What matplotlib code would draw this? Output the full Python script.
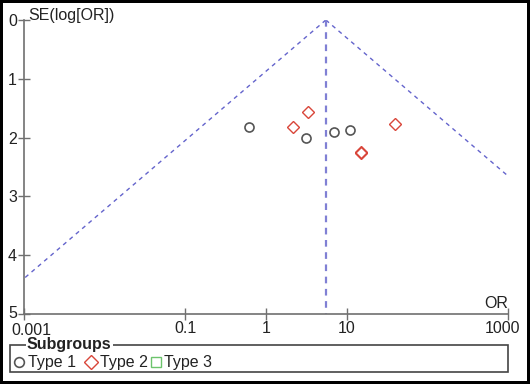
import matplotlib
matplotlib.use('Agg')
import matplotlib.pyplot as plt
import matplotlib.transforms as mtransforms
from matplotlib.patches import Rectangle
from matplotlib.lines import Line2D
import numpy as np

plt.rcParams['font.family'] = ['Liberation Sans', 'DejaVu Sans']

# ---- data ----
type1_or = [0.614, 3.12, 6.94, 10.96]
type1_se = [1.82, 2.007, 1.905, 1.87]
type2_or = [3.30, 2.15, 15.0, 15.2, 39.6]
type2_se = [1.565, 1.82, 2.24, 2.255, 1.77]
pooled_or = 5.52
se_max = 5

x_ticks = [0.001, 0.1, 1, 10, 1000]
x_labels = ['0.001', '0.1', '1', '10', '1000']
y_ticks = [0, 1, 2, 3, 4, 5]
legend_labels = ['Type 1', 'Type 2', 'Type 3']

C_T1 = '#555555'
C_T2 = '#d9463a'
C_T3 = '#6cc46c'
C_LINE = '#6464cc'
C_AX = '#707070'
C_TXT = '#222222'

W, H = 530, 384
fig = plt.figure(figsize=(W / 100, H / 100), dpi=100)
fig.patch.set_edgecolor('black')
fig.patch.set_linewidth(3)
ax = fig.add_axes([24 / W, 1 - 314 / H, 484 / W, 294 / H])

ax.set_xscale('log')
ax.set_xlim(0.001, 1000)
ax.set_ylim(se_max, 0)

# funnel (95% limits around pooled estimate)
se = np.array([0, se_max])
lw = pooled_or * np.exp(-1.96 * se)
up = pooled_or * np.exp(1.96 * se)
ax.plot(lw, se, color=C_LINE, lw=1, ls=(0, (3, 3)))
ax.plot(up, se, color=C_LINE, lw=1, ls=(0, (3, 3)))
ax.plot([pooled_or, pooled_or], [0, se_max], color='#8080d4', lw=1.6, ls=(0, (3, 2.5)))

ax.plot(type1_or, type1_se, 'o', ms=6.5, mfc='none', mec=C_T1, mew=1.2, ls='none')
ax.plot(type2_or, type2_se, 'D', ms=6.5, mfc='none', mec=C_T2, mew=1.0, ls='none')

for s in ['top', 'right']:
    ax.spines[s].set_visible(False)
for s in ['left', 'bottom']:
    ax.spines[s].set_color(C_AX)
    ax.spines[s].set_linewidth(1.2)

ax.set_xticks(x_ticks)
ax.set_xticklabels(x_labels)
ax.minorticks_off()
ax.set_yticks(y_ticks)
ax.tick_params(axis='both', direction='inout', length=8, width=1, color=C_AX,
               labelsize=11.5, labelcolor=C_TXT)
ax.tick_params(axis='x', pad=1)
ax.tick_params(axis='y', pad=1)

def shift(lab, dx, dy):
    lab.set_transform(lab.get_transform() +
                      mtransforms.ScaledTranslation(dx / 100, dy / 100, fig.dpi_scale_trans))

xl = ax.get_xticklabels()
shift(xl[0], 7, -2)
shift(xl[-1], -5, 0)
yl = ax.get_yticklabels()
shift(yl[-1], 0, 2)

ax.annotate('SE(log[OR])', xy=(0.001, 0), xytext=(3, 3), textcoords='offset points',
            ha='left', va='center', fontsize=11.5, color=C_TXT, annotation_clip=False)
ax.annotate('OR', xy=(1000, 5), xytext=(0, 2), textcoords='offset points',
            ha='right', va='bottom', fontsize=11.5, color=C_TXT, annotation_clip=False)

# legend box, drawn by hand
fig.patches.append(Rectangle((10 / W, 1 - 372 / H), 498 / W, 27 / H,
                             transform=fig.transFigure, fill=False,
                             edgecolor='#444444', lw=1.2))
fig.text(27 / W, 1 - 345 / H, 'Subgroups', fontsize=11.5, fontweight='bold',
         ha='left', va='center', color=C_TXT,
         bbox=dict(facecolor='white', edgecolor='none', pad=1))

markers = [('o', C_T1, 1.2), ('D', C_T2, 1.0), ('s', C_T3, 1.0)]
mark_x = [18.5, 90.5, 156]
text_x = [28, 100, 164]
ly = 1 - 362 / H
for (m, c, mw), mx, tx, lab in zip(markers, mark_x, text_x, legend_labels):
    fig.add_artist(Line2D([mx / W], [ly], marker=m, ls='none', ms=7 if m != 'D' else 7.5,
                          mfc='none', mec=c, mew=mw, transform=fig.transFigure))
    fig.text(tx / W, ly, lab, fontsize=11.5, ha='left', va='center', color=C_TXT)

fig.savefig('out.png', dpi=100)
